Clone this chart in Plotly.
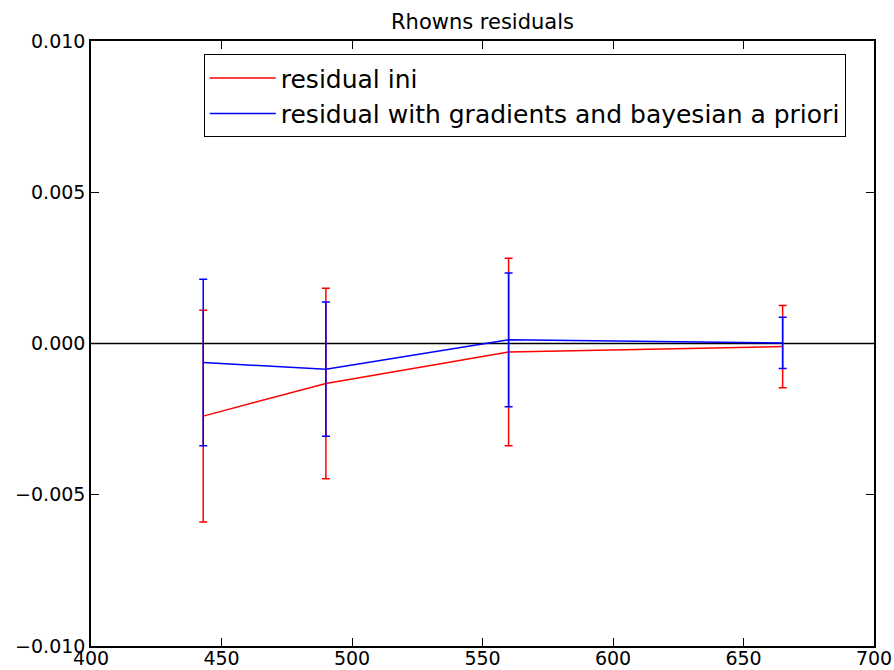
import plotly.graph_objects as go

wavelengths = [443, 490, 560, 665]
res_ini = [-0.0024, -0.00132, -0.00028, -0.0001]
err_ini = [0.0035, 0.00315, 0.0031, 0.00136]
res_grad = [-0.00063, -0.00085, 0.00012, 0.00002]
err_grad = [0.00275, 0.00222, 0.00221, 0.00085]

fig = go.Figure()
fig.add_trace(go.Scatter(
    x=wavelengths, y=res_ini, mode="lines", name="residual ini",
    line=dict(color="#ff0000", width=1.5),
    error_y=dict(type="data", array=err_ini, visible=True, color="#ff0000", thickness=1.5, width=4),
))
fig.add_trace(go.Scatter(
    x=wavelengths, y=res_grad, mode="lines", name="residual with gradients and bayesian a priori",
    line=dict(color="#0000ff", width=1.5),
    error_y=dict(type="data", array=err_grad, visible=True, color="#0000ff", thickness=1.5, width=4),
))

fig.add_shape(type="line", xref="paper", yref="y", x0=0, x1=1, y0=0, y1=0,
              line=dict(color="black", width=1.5), layer="below")

axis_common = dict(showgrid=False, zeroline=False, showline=True, linecolor="black", linewidth=1.5,
                   mirror="ticks", ticks="inside", ticklen=8, tickwidth=1, tickcolor="black",
                   automargin=False,
                   tickfont=dict(family="DejaVu Sans", size=19, color="black"))

fig.update_layout(
    width=894, height=670,
    margin=dict(l=91, r=20, t=41, b=24),
    paper_bgcolor="white", plot_bgcolor="white",
    title=dict(text="Rhowns residuals", x=(91 + 874) / 2 / 894, xanchor="center", y=1 - 22 / 670, yanchor="middle",
               font=dict(family="DejaVu Sans", size=21, color="black"), automargin=False),
    xaxis=dict(range=[400, 700], tickvals=[400, 450, 500, 550, 600, 650, 700], ticklabelstandoff=-6, **axis_common),
    yaxis=dict(range=[-0.01, 0.01], tickvals=[-0.01, -0.005, 0, 0.005, 0.01],
               ticktext=["\u22120.010", "\u22120.005", "0.000", "0.005", "0.010"], **axis_common),
    legend=dict(x=0.144, y=0.978, xanchor="left", yanchor="top", bordercolor="black", borderwidth=1,
                bgcolor="white", font=dict(family="DejaVu Sans", size=25, color="black"),
                itemwidth=66, tracegroupgap=2),
    showlegend=True,
)

fig.write_html("out.html")
